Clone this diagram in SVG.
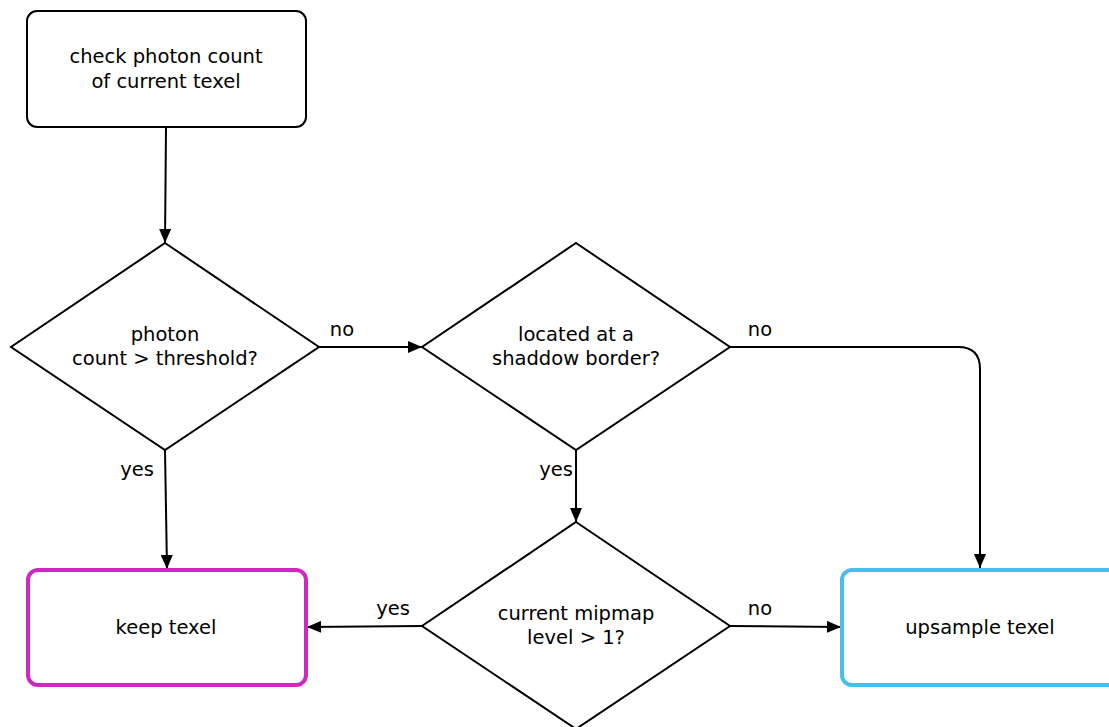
<svg xmlns="http://www.w3.org/2000/svg" width="1109" height="727" viewBox="0 0 1109 727">
<style>
text{font-family:"DejaVu Sans",Verdana,sans-serif;font-size:19.5px;fill:#000;text-anchor:middle}
.n{fill:#fff;stroke:#000;stroke-width:2}
.e{fill:none;stroke:#000;stroke-width:2}
</style>
<defs>
<marker id="a" viewBox="0 0 14 12" refX="14" refY="6" markerWidth="14" markerHeight="12" markerUnits="userSpaceOnUse" orient="auto"><path d="M0,0L14,6L0,12z" fill="#000"/></marker>
</defs>
<rect width="1109" height="727" fill="#fff"/>
<g id="connectors">
<path class="e" d="M166,127L165,243" marker-end="url(#a)"/>
<path class="e" d="M319,347L422,347" marker-end="url(#a)"/>
<path class="e" d="M730,347L958,347Q980,347 980,369L980,568" marker-end="url(#a)"/>
<path class="e" d="M165,450L167,569" marker-end="url(#a)"/>
<path class="e" d="M576,450L576,522" marker-end="url(#a)"/>
<path class="e" d="M422,626L307,627" marker-end="url(#a)"/>
<path class="e" d="M730,626L841,627" marker-end="url(#a)"/>
<text x="342" y="336">no</text>
<text x="760" y="336">no</text>
<text x="137" y="476">yes</text>
<text x="556" y="476">yes</text>
<text x="393" y="615">yes</text>
<text x="760" y="615">no</text>
</g>
<g id="start">
<rect class="n" x="27" y="11" width="279" height="116" rx="10"/>
<text x="166" y="63">check photon count</text>
<text x="166" y="88">of current texel</text>
</g>
<g id="d1">
<path class="n" d="M165,243L319,347L165,450L11,347z"/>
<text x="165" y="341">photon</text>
<text x="165" y="365">count &gt; threshold?</text>
</g>
<g id="d2">
<path class="n" d="M576,243L730,347L576,450L422,347z"/>
<text x="576" y="341">located at a</text>
<text x="576" y="365">shaddow border?</text>
</g>
<g id="d3">
<path class="n" d="M576,522L730,626L576,729L422,626z"/>
<text x="576" y="620">current mipmap</text>
<text x="576" y="644">level &gt; 1?</text>
</g>
<g id="keep">
<rect x="28" y="570" width="278" height="115" rx="10" fill="#fff" stroke="#cf27bf" stroke-width="4"/>
<text x="166" y="634">keep texel</text>
</g>
<g id="upsample">
<rect x="842" y="570" width="278" height="115" rx="10" fill="#fff" stroke="#45bfee" stroke-width="4"/>
<text x="980" y="634">upsample texel</text>
</g>
</svg>
